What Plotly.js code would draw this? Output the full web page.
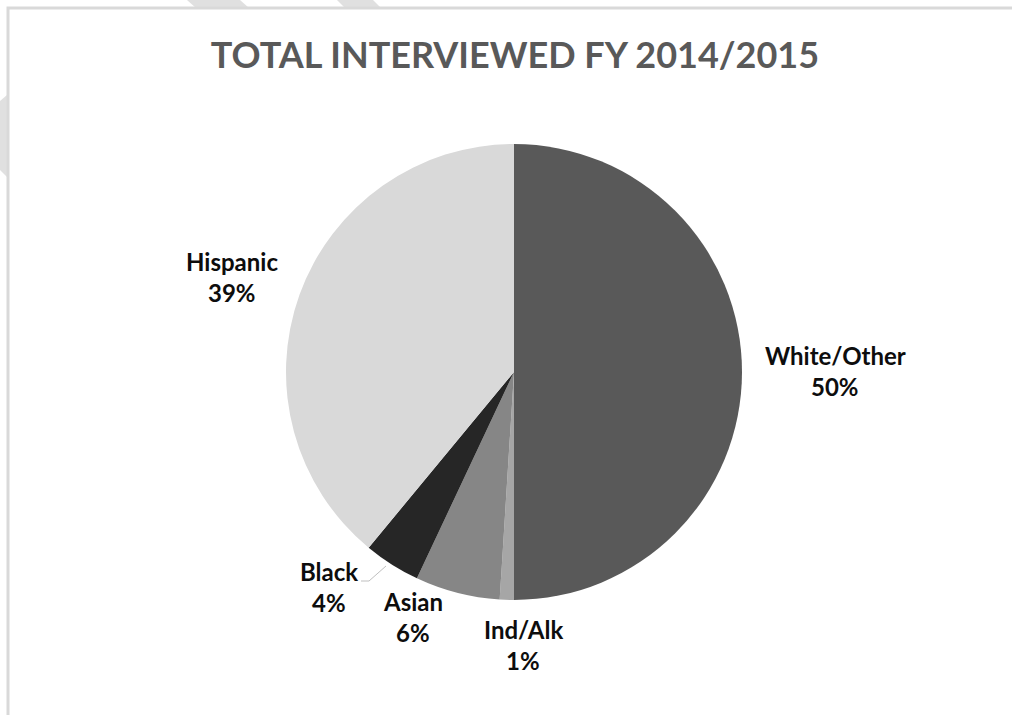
<!DOCTYPE html>
<html><head><meta charset="utf-8">
<script src="https://cdn.plot.ly/plotly-3.0.1.min.js"></script>
<style>html,body{margin:0;padding:0;background:#fff;overflow:hidden}</style>
</head><body><div id="chart" style="width:1012px;height:715px"></div>
<script>
// ---- data ----
const categories = ['White/Other', 'Ind/Alk', 'Asian', 'Black', 'Hispanic'];
const values = [50, 1, 6, 4, 39];
const sliceColors = ['#595959', '#a6a6a6', '#868686', '#262626', '#d9d9d9'];
const chartTitle = 'TOTAL INTERVIEWED FY 2014/2015';

// ---- layout helpers ----
const W = 1012, H = 715;
const px = x => x / W, py = y => 1 - y / H;
const cx = 514, cy = 372, R = 228;
// label anchor (centre x, first-line baseline y) in pixels
const labelAnchor = [[835, 366], [523, 640], [413, 612], [329, 582], [232, 272]];
const lineGap = 31;
const labelSize = 24;
const total = values.reduce((a, b) => a + b, 0);

const annotations = [];
categories.forEach((c, i) => {
  const [lx, ly] = labelAnchor[i];
  const pct = Math.round(values[i] / total * 100) + '%';
  [c, pct].forEach((t, k) => {
    annotations.push({
      text: '<b>' + t + '</b>', showarrow: false, xref: 'paper', yref: 'paper',
      x: px(lx), y: py(ly + k * lineGap + 0.26 * labelSize), xanchor: 'center', yanchor: 'bottom',
      font: {family: 'Lato, sans-serif', size: labelSize, color: '#0d0d0d'}
    });
  });
});

const shapes = [];
// soft shadow
for (let k = 1; k <= 5; k++) {
  const r = R + 2 * k;
  shapes.push({type: 'circle', xref: 'paper', yref: 'paper', layer: 'below',
    x0: px(cx - r), x1: px(cx + r), y0: py(cy + 2 + r), y1: py(cy + 2 - r),
    fillcolor: 'rgba(0,0,0,0.02)', line: {width: 0}});
}
// watermark fragments
const wm = [[[187,0],[240,0],[249,8],[196,8]], [[337,0],[373,0],[381,8],[345,8]], [[0,101],[7,95],[7,177],[0,170]]];
wm.forEach(poly => {
  shapes.push({type: 'path', xref: 'paper', yref: 'paper', layer: 'below',
    path: 'M' + poly.map(p => px(p[0]) + ',' + py(p[1])).join('L') + 'Z',
    fillcolor: '#e0e0e0', line: {width: 0}});
});
// chart border
shapes.push({type: 'rect', xref: 'paper', yref: 'paper', layer: 'below',
  x0: px(8), x1: px(1030), y0: py(730), y1: py(8), fillcolor: '#ffffff',
  line: {color: '#d9d9d9', width: 3}});
// Black leader line
shapes.push({type: 'path', xref: 'paper', yref: 'paper',
  path: 'M' + px(361) + ',' + py(581) + 'L' + px(369) + ',' + py(581) + 'L' + px(386) + ',' + py(566),
  line: {color: '#bfbfbf', width: 1}});

const trace = {
  type: 'pie', labels: categories, values: values, sort: false, direction: 'clockwise', rotation: 0,
  marker: {colors: sliceColors, line: {width: 0}}, textinfo: 'none', hoverinfo: 'label+percent',
  domain: {x: [px(cx - R), px(cx + R)], y: [py(cy + R), py(cy - R)]}
};

const layout = {
  width: W, height: H, margin: {l: 0, r: 0, t: 0, b: 0},
  paper_bgcolor: '#ffffff', showlegend: false,
  title: {text: '<b>' + chartTitle + '</b>', x: px(515), xref: 'paper', xanchor: 'center',
    y: py(55), yref: 'paper', yanchor: 'middle',
    font: {family: 'Lato, sans-serif', size: 36, color: '#595959'}},
  annotations: annotations, shapes: shapes
};

Plotly.newPlot('chart', [trace], layout, {displayModeBar: false, staticPlot: true});
</script></body></html>
